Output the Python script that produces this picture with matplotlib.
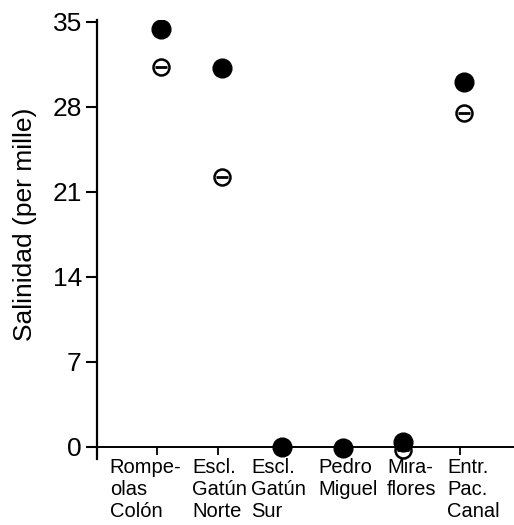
import matplotlib
matplotlib.use("Agg")
import matplotlib.pyplot as plt
import matplotlib.transforms as mtransforms

# --- data ---
sites = ["Rompe-\nolas\nColón", "Escl.\nGatún\nNorte", "Escl.\nGatún\nSur",
         "Pedro\nMiguel", "Mira-\nflores", "Entr.\nPac.\nCanal"]
salinity_filled = [34.4, 31.2, 0.0, -0.1, 0.4, 30.0]
salinity_open = [31.3, 22.2, 0.0, -0.1, -0.3, 27.5]
y_ticks = [0, 7, 14, 21, 28, 35]

# left edge of each category label, relative to its tick (in category units)
label_shift = [-0.78, -0.42, -0.44, -0.33, -0.20, -0.20]

plt.rcParams["font.family"] = ["Liberation Sans", "DejaVu Sans"]

fig = plt.figure(figsize=(5.14, 5.25), dpi=100)
ax = fig.add_axes([0.189, 0.126, 0.811, 0.836])

x = list(range(len(sites)))
xo = [v + 0.07 for v in x]   # points sit a bit right of the ticks

ax.plot(xo, salinity_open, linestyle="none", marker="o", markersize=11.5,
        markerfacecolor="white", markeredgecolor="black", markeredgewidth=1.8, zorder=3)
ax.plot(xo, salinity_open, linestyle="none", marker="_", markersize=8,
        markeredgecolor="black", markeredgewidth=2.0, zorder=4)
ax.plot(xo, salinity_filled, linestyle="none", marker="o", markersize=13.5,
        color="black", zorder=5)

ax.set_xlim(-0.99, 5.9)
ax.set_ylim(-1.0, 35.15)

ax.spines["top"].set_visible(False)
ax.spines["right"].set_visible(False)
ax.spines["bottom"].set_position(("data", 0))
ax.spines["left"].set_linewidth(1.6)
ax.spines["bottom"].set_linewidth(1.4)

ax.set_yticks(y_ticks)
ax.set_yticklabels([str(t) for t in y_ticks], fontsize=19)
ax.tick_params(axis="y", direction="out", length=8, width=1.5, pad=3)

ax.set_xticks(x)
ax.set_xticklabels([])
ax.tick_params(axis="x", direction="out", length=6, width=1.3)

trans = mtransforms.blended_transform_factory(ax.transData, ax.transAxes)
for xi, name, dx in zip(x, sites, label_shift):
    ax.text(xi + dx, 0.003, name, transform=trans, ha="left", va="top",
            fontsize=14.5, linespacing=1.2)

ax.set_ylabel("Salinidad (per mille)", fontsize=19)
ax.yaxis.set_label_coords(-0.145, 0.535)

fig.savefig("out.png", dpi=100)
